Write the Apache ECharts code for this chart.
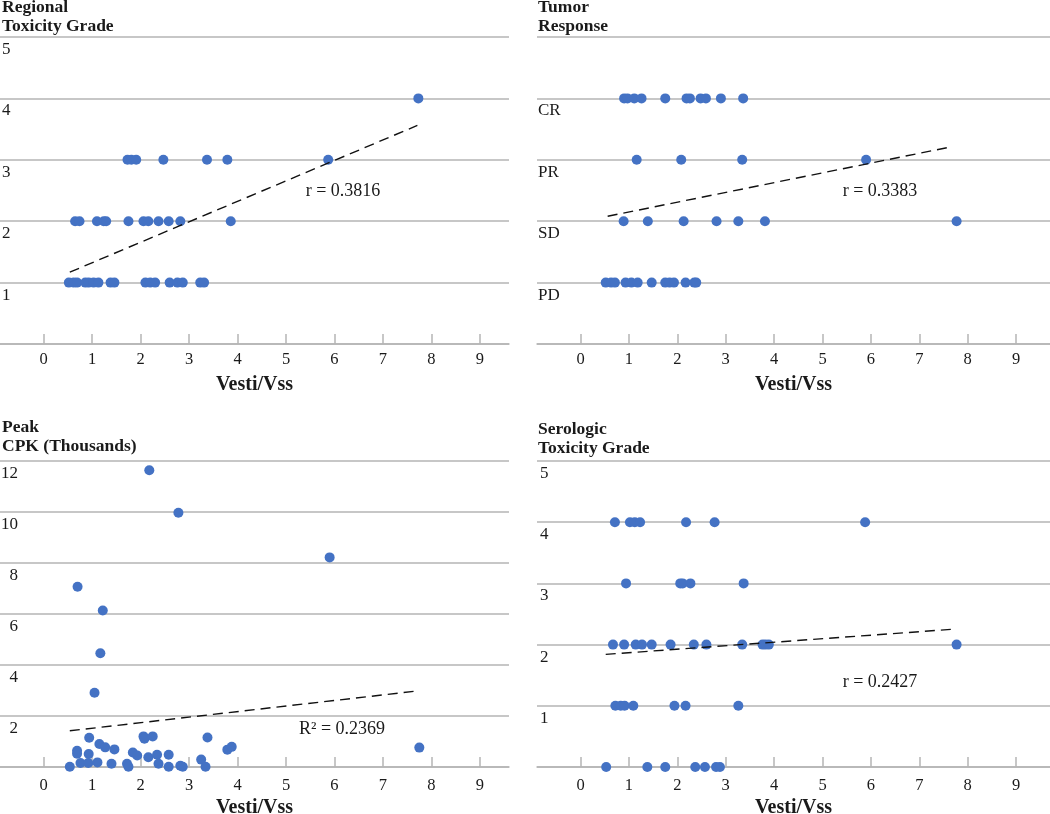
<!DOCTYPE html>
<html><head><meta charset="utf-8">
<script src="https://cdn.jsdelivr.net/npm/echarts@6/dist/echarts.min.js"></script>
<style>html,body{margin:0;padding:0;background:#fff}#c{width:1050px;height:814px}</style>
</head><body><div id="c"></div>
<script>
// ---------- data ----------
const xTicks = [0, 1, 2, 3, 4, 5, 6, 7, 8, 9];

// Regional toxicity grade (x = Vesti/Vss per grade)
const regionalGrade4 = [7.73];
const regionalGrade3 = [1.73, 1.81, 1.91, 2.47, 3.37, 3.79, 5.87];
const regionalGrade2 = [0.65, 0.74, 1.10, 1.24, 1.29, 1.75, 2.06, 2.16, 2.37, 2.58, 2.82, 3.86];
const regionalGrade1 = [0.52, 0.62, 0.69, 0.86, 0.93, 1.03, 1.13, 1.38, 1.46, 2.10, 2.20, 2.30, 2.60, 2.76, 2.87, 3.23, 3.31];
const regionalTrendX = [0.54, 7.71];
const regionalTrendY = [1.17, 3.56];

// Tumor response
const tumorCategories = ['', 'PD', 'SD', 'PR', 'CR', ''];
const tumorCR = [0.90, 0.97, 1.11, 1.26, 1.75, 2.19, 2.26, 2.48, 2.59, 2.90, 3.36];
const tumorPR = [1.16, 2.08, 3.34, 5.90];
const tumorSD = [0.89, 1.39, 2.13, 2.81, 3.26, 3.81, 7.77];
const tumorPD = [0.52, 0.63, 0.71, 0.93, 1.05, 1.18, 1.47, 1.75, 1.84, 1.93, 2.17, 2.35, 2.39];
const tumorTrendX = [0.56, 7.59];
const tumorTrendY = [2.08, 3.20];

// Peak CPK (thousands)
const cpkX = [2.18, 2.78, 5.90, 0.70, 1.22, 1.17, 1.05, 0.94, 0.69, 0.69, 0.76, 0.54, 0.93, 0.92, 1.15, 1.27, 1.11, 1.46, 1.40, 1.72, 1.75, 1.84, 1.93, 2.06, 2.08, 2.25, 2.16, 2.34, 2.37, 2.58, 2.58, 2.82, 2.87, 3.25, 3.34, 3.38, 3.79, 3.88, 7.75];
const cpkY = [11.64, 9.97, 8.22, 7.07, 6.14, 4.46, 2.91, 1.15, 0.64, 0.52, 0.16, 0.01, 0.51, 0.16, 0.90, 0.77, 0.18, 0.69, 0.13, 0.13, 0.01, 0.57, 0.45, 1.20, 1.11, 1.20, 0.38, 0.48, 0.13, 0.48, 0.01, 0.05, 0.01, 0.29, 0.01, 1.16, 0.68, 0.79, 0.76];
const cpkTrendX = [0.54, 7.66];
const cpkTrendY = [1.42, 2.97];

// Serologic toxicity grade
const seroGrade4 = [0.71, 1.02, 1.12, 1.23, 2.18, 2.77, 5.88];
const seroGrade3 = [0.94, 2.06, 2.11, 2.27, 3.37];
const seroGrade2 = [0.67, 0.90, 1.14, 1.27, 1.47, 1.86, 2.34, 2.60, 3.34, 3.76, 3.82, 3.89, 7.77];
const seroGrade1 = [0.72, 0.83, 0.91, 1.09, 1.94, 2.17, 3.26];
const seroGrade0 = [0.53, 1.38, 1.75, 2.37, 2.57, 2.80, 2.88];
const seroTrendX = [0.52, 7.68];
const seroTrendY = [1.84, 2.25];

// ---------- chart ----------
const FONT = '"Liberation Serif", "Times New Roman", serif';
const GRAY = '#b5b5b5';
const BLUE = '#4472C4';
const TXT = '#1a1a1a';

const atGrade = (xs, g) => xs.map(x => [x, g]);
const pairs = (xs, ys) => xs.map((x, i) => [x, ys[i]]);

const regionalData = [].concat(atGrade(regionalGrade4, 4), atGrade(regionalGrade3, 3), atGrade(regionalGrade2, 2), atGrade(regionalGrade1, 1));
const tumorData = [].concat(atGrade(tumorCR, 4), atGrade(tumorPR, 3), atGrade(tumorSD, 2), atGrade(tumorPD, 1));
const cpkData = pairs(cpkX, cpkY);
const seroData = [].concat(atGrade(seroGrade4, 4), atGrade(seroGrade3, 3), atGrade(seroGrade2, 2), atGrade(seroGrade1, 1), atGrade(seroGrade0, 0));

function xAxis(i, max, labelMargin) {
  return {
    type: 'value', gridIndex: i, min: -0.9, max: max,
    name: 'Vesti/Vss', nameLocation: 'middle', nameGap: 31,
    nameTextStyle: { fontFamily: FONT, fontWeight: 'bold', fontSize: 20, color: TXT },
    axisLine: { show: true, onZero: false, lineStyle: { color: GRAY, width: 1.5 } },
    axisTick: { show: true, inside: true, length: 10, customValues: xTicks, lineStyle: { color: GRAY, width: 1.5 } },
    axisLabel: { customValues: xTicks, margin: labelMargin, fontFamily: FONT, fontSize: 16.5, color: TXT },
    splitLine: { show: false }
  };
}
function yAxis(i, max, interval, fmt, align, margin) {
  return {
    type: 'value', gridIndex: i, min: 0, max: max, interval: interval,
    axisLine: { show: false }, axisTick: { show: false },
    splitLine: { show: true, lineStyle: { color: GRAY, width: 1.5 } },
    axisLabel: { inside: true, verticalAlign: 'top', align: align, margin: margin, padding: [4, 0, 0, 0],
      formatter: fmt, fontFamily: FONT, fontSize: 17, color: TXT }
  };
}
const numFmt = v => (v === 0 ? '' : String(v));

function scatter(i, data) {
  return { type: 'scatter', xAxisIndex: i, yAxisIndex: i, data: data, symbolSize: 10,
    itemStyle: { color: BLUE, opacity: 1 }, z: 3, clip: false };
}
function trend(i, xs, ys) {
  return { type: 'line', xAxisIndex: i, yAxisIndex: i, data: pairs(xs, ys), symbol: 'none',
    lineStyle: { color: '#111', width: 1.4, type: [10, 6] }, z: 4, silent: true };
}
function label(x, y, text) {
  return { type: 'text', x: x, y: y, z: 10,
    style: { text: text, fill: TXT, font: '18px ' + FONT, align: 'center', verticalAlign: 'middle' } };
}
function title(x, y, text) {
  return { type: 'text', x: x, y: y, z: 10,
    style: { text: text, fill: TXT, font: 'bold 17.5px ' + FONT, lineHeight: 19, align: 'left', verticalAlign: 'top' } };
}
function grid(left, top, width, height) {
  return { left: left, top: top, width: width, height: height, containLabel: false, outerBoundsMode: 'none' };
}

const chart = echarts.init(document.getElementById('c'), null, { renderer: 'canvas' });
chart.setOption({
  animation: false,
  backgroundColor: '#fff',
  grid: [
    grid(0, 37, 509, 307),
    grid(537, 37, 513, 307),
    grid(0, 461, 509, 306),
    grid(537, 461, 513, 306)
  ],
  xAxis: [xAxis(0, 9.6, 7), xAxis(1, 9.7, 7), xAxis(2, 9.6, 10), xAxis(3, 9.7, 10)],
  yAxis: [
    yAxis(0, 5, 1, numFmt, 'left', 2),
    yAxis(1, 5, 1, v => tumorCategories[v] || '', 'left', 1),
    yAxis(2, 12, 2, numFmt, 'right', 18),
    yAxis(3, 5, 1, numFmt, 'left', 3)
  ],
  series: [
    scatter(0, regionalData), trend(0, regionalTrendX, regionalTrendY),
    scatter(1, tumorData), trend(1, tumorTrendX, tumorTrendY),
    scatter(2, cpkData), trend(2, cpkTrendX, cpkTrendY),
    scatter(3, seroData), trend(3, seroTrendX, seroTrendY)
  ],
  graphic: [
    title(2, -2, 'Regional\nToxicity Grade'),
    title(538, -2, 'Tumor\nResponse'),
    title(2, 418, 'Peak\nCPK (Thousands)'),
    title(538, 420, 'Serologic\nToxicity Grade'),
    label(343, 191, 'r = 0.3816'),
    label(880, 191, 'r = 0.3383'),
    label(342, 729, 'R\u00B2 = 0.2369'),
    label(880, 682, 'r = 0.2427')
  ]
});
</script>
</body></html>
